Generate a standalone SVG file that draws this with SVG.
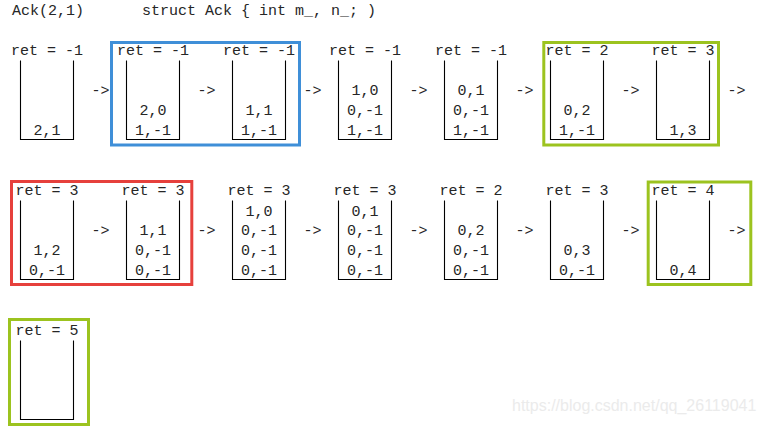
<svg xmlns="http://www.w3.org/2000/svg" width="763" height="426" viewBox="0 0 763 426">
<style>
text{font-family:"Liberation Mono","Courier New",monospace;font-size:15px;fill:#262626}
.m{text-anchor:middle}
.box{fill:none;stroke:#000;stroke-width:1.1}
.hl{fill:none;stroke-width:3}
.wm{font-family:"Liberation Sans",Arial,sans-serif;font-size:16px;fill:#ebebeb}
</style>
<rect width="763" height="426" fill="#fff"/>
<text x="12" y="15">Ack(2,1)</text>
<text x="142" y="15">struct Ack { int m_, n_; )</text>

<g id="highlights">
<rect class="hl" stroke="#3f8fd8" x="111.5" y="42.5" width="188" height="102.5"/>
<rect class="hl" stroke="#9cc31f" x="543.8" y="42.5" width="174.7" height="102.5"/>
<rect class="hl" stroke="#e6403c" x="11.5" y="181.5" width="180.3" height="103"/>
<rect class="hl" stroke="#9cc31f" x="648.2" y="182" width="102.6" height="102.5"/>
<rect class="hl" stroke="#9cc31f" x="9.5" y="319.5" width="79" height="105"/>
</g>

<!-- Row 1 -->
<g id="r1s1"><text class="m" x="47" y="55">ret = -1</text><path class="box" d="M20.5,60.5V139.5H73.5V60.5"/><text class="m" x="47" y="134.7">2,1</text></g>
<g id="r1s2"><text class="m" x="153" y="55">ret = -1</text><path class="box" d="M126.5,60.5V139.5H179.5V60.5"/><text class="m" x="153" y="134.7">1,-1</text><text class="m" x="153" y="115">2,0</text></g>
<g id="r1s3"><text class="m" x="259" y="55">ret = -1</text><path class="box" d="M232.5,60.5V139.5H285.5V60.5"/><text class="m" x="259" y="134.7">1,-1</text><text class="m" x="259" y="115">1,1</text></g>
<g id="r1s4"><text class="m" x="365" y="55">ret = -1</text><path class="box" d="M338.5,60.5V139.5H391.5V60.5"/><text class="m" x="365" y="134.7">1,-1</text><text class="m" x="365" y="115">0,-1</text><text class="m" x="365" y="95.3">1,0</text></g>
<g id="r1s5"><text class="m" x="471" y="55">ret = -1</text><path class="box" d="M444.5,60.5V139.5H497.5V60.5"/><text class="m" x="471" y="134.7">1,-1</text><text class="m" x="471" y="115">0,-1</text><text class="m" x="471" y="95.3">0,1</text></g>
<g id="r1s6"><text class="m" x="577" y="55">ret = 2</text><path class="box" d="M550.5,60.5V139.5H603.5V60.5"/><text class="m" x="577" y="134.7">1,-1</text><text class="m" x="577" y="115">0,2</text></g>
<g id="r1s7"><text class="m" x="683" y="55">ret = 3</text><path class="box" d="M656.5,60.5V139.5H709.5V60.5"/><text class="m" x="683" y="134.7">1,3</text></g>

<!-- Row 2 -->
<g id="r2s1"><text class="m" x="47" y="195">ret = 3</text><path class="box" d="M20.5,200.5V279.5H73.5V200.5"/><text class="m" x="47" y="274.7">0,-1</text><text class="m" x="47" y="255">1,2</text></g>
<g id="r2s2"><text class="m" x="153" y="195">ret = 3</text><path class="box" d="M126.5,200.5V279.5H179.5V200.5"/><text class="m" x="153" y="274.7">0,-1</text><text class="m" x="153" y="255">0,-1</text><text class="m" x="153" y="235.3">1,1</text></g>
<g id="r2s3"><text class="m" x="259" y="195">ret = 3</text><path class="box" d="M232.5,200.5V279.5H285.5V200.5"/><text class="m" x="259" y="274.7">0,-1</text><text class="m" x="259" y="255">0,-1</text><text class="m" x="259" y="235.3">0,-1</text><text class="m" x="259" y="215.6">1,0</text></g>
<g id="r2s4"><text class="m" x="365" y="195">ret = 3</text><path class="box" d="M338.5,200.5V279.5H391.5V200.5"/><text class="m" x="365" y="274.7">0,-1</text><text class="m" x="365" y="255">0,-1</text><text class="m" x="365" y="235.3">0,-1</text><text class="m" x="365" y="215.6">0,1</text></g>
<g id="r2s5"><text class="m" x="471" y="195">ret = 2</text><path class="box" d="M444.5,200.5V279.5H497.5V200.5"/><text class="m" x="471" y="274.7">0,-1</text><text class="m" x="471" y="255">0,-1</text><text class="m" x="471" y="235.3">0,2</text></g>
<g id="r2s6"><text class="m" x="577" y="195">ret = 3</text><path class="box" d="M550.5,200.5V279.5H603.5V200.5"/><text class="m" x="577" y="274.7">0,-1</text><text class="m" x="577" y="255">0,3</text></g>
<g id="r2s7"><text class="m" x="683" y="195">ret = 4</text><path class="box" d="M656.5,200.5V279.5H709.5V200.5"/><text class="m" x="683" y="274.7">0,4</text></g>

<!-- Row 3 -->
<g id="r3s1"><text class="m" x="47" y="335">ret = 5</text><path class="box" d="M20.5,340.5V419.5H73.5V340.5"/></g>

<g id="connectors">
<text class="m" x="100.5" y="95">-&gt;</text>
<text class="m" x="206.5" y="95">-&gt;</text>
<text class="m" x="312.5" y="95">-&gt;</text>
<text class="m" x="418.5" y="95">-&gt;</text>
<text class="m" x="524.5" y="95">-&gt;</text>
<text class="m" x="630.5" y="95">-&gt;</text>
<text class="m" x="736.5" y="95">-&gt;</text>
<text class="m" x="100.5" y="235">-&gt;</text>
<text class="m" x="206.5" y="235">-&gt;</text>
<text class="m" x="312.5" y="235">-&gt;</text>
<text class="m" x="418.5" y="235">-&gt;</text>
<text class="m" x="524.5" y="235">-&gt;</text>
<text class="m" x="630.5" y="235">-&gt;</text>
<text class="m" x="736.5" y="235">-&gt;</text>
</g>

<text class="wm" x="512" y="411">https://blog.csdn.net/qq_26119041</text>
</svg>
